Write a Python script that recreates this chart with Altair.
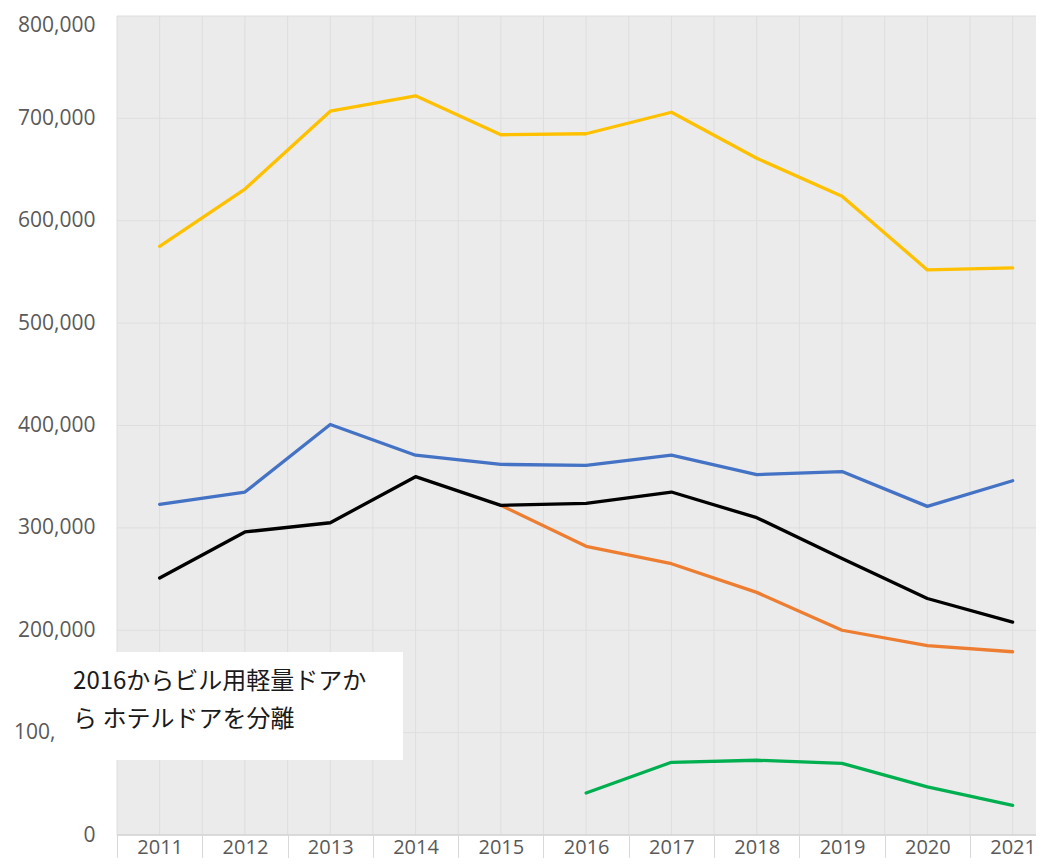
import altair as alt
import pandas as pd

# ---- data ----
years = list(range(2011, 2022))
yellow = [575000, 631000, 707000, 722000, 684000, 685000, 706000, 661000, 624000, 552000, 554000]
blue = [323000, 335000, 401000, 371000, 362000, 361000, 371000, 352000, 355000, 321000, 346000]
orange = [None, None, None, None, 322000, 282000, 265000, 237000, 200000, 185000, 179000]
black = [251000, 296000, 305000, 350000, 322000, 324000, 335000, 310000, 270000, 231000, 208000]
green = [None, None, None, None, None, 41000, 71000, 73000, 70000, 47000, 29000]
y_ticks = list(range(0, 800001, 100000))
band_edges = [2010.5 + i for i in range(11)]
x_domain = [2010.5, 2021.274]
note = "2016からビル用軽量ドアか\nら ホテルドアを分離"

series = [
    ("yellow", yellow, "#FFC000"),
    ("blue", blue, "#4472C4"),
    ("orange", orange, "#ED7D31"),
    ("black", black, "#000000"),
    ("green", green, "#00B050"),
]

W, H = 919, 819
FONT = "Open Sans"

x_scale = alt.Scale(domain=x_domain, nice=False, zero=False)
y_scale = alt.Scale(domain=[0, 800000], nice=False)

x_axis = alt.Axis(
    values=band_edges + years,
    labelExpr="datum.value % 1 === 0 ? '' + datum.value : ''",
    title=None, grid=False, domain=False,
    tickSize=23, tickWidth=1,
    tickColor={"condition": {"test": "datum.value % 1 !== 0", "value": "#d9d9d9"}, "value": "transparent"},
    labelPadding=-11, labelFont=FONT, labelFontSize=20, labelColor="#595959",
    labelBaseline="middle", labelFlush=False, labelOverlap=False,
)
# the 100,000 label is partly hidden by the note box in the reference: only "100," shows
y_axis = alt.Axis(
    values=y_ticks, title=None, grid=False, domain=False, ticks=False,
    labelExpr="datum.value === 100000 ? '100,' : format(datum.value, ',d')",
    labelPadding={"condition": {"test": "datum.value === 100000", "value": 62}, "value": 22},
    labelOffset={"condition": {"test": "datum.value === 800000", "value": 9}, "value": 0},
    labelFont=FONT, labelFontSize=21, labelColor="#595959",
)


def X(f):
    return alt.X(f, type="quantitative", scale=x_scale, axis=x_axis)


def Y(f):
    return alt.Y(f, type="quantitative", scale=y_scale, axis=y_axis)


bg_df = pd.DataFrame({"x0": [x_domain[0]], "x1": [x_domain[1]], "y0": [y_ticks[0]], "y1": [y_ticks[-1]]})
bg = alt.Chart(bg_df).mark_rect(fill="#ebebeb", stroke=None).encode(
    x=X("x0"), x2=alt.X2("x1"), y=Y("y0"), y2=alt.Y2("y1")
)

vgrid = alt.Chart(pd.DataFrame({"g": band_edges + years})).mark_rule(color="#dedede", strokeWidth=1).encode(x=X("g"))
hgrid = alt.Chart(pd.DataFrame({"v": y_ticks})).mark_rule(color="#dedede", strokeWidth=1).encode(y=Y("v"))
base_line = alt.Chart(pd.DataFrame({"v": [y_ticks[0]]})).mark_rule(color="#d4d4d4", strokeWidth=1.5).encode(y=Y("v"))

line_layers = []
for name, vals, col in series:
    df = pd.DataFrame({"year": years, "value": vals}).dropna()
    line_layers.append(
        alt.Chart(df).mark_line(color=col, strokeWidth=3.3, strokeJoin="round", strokeCap="round").encode(
            x=X("year"), y=Y("value")
        )
    )

one = pd.DataFrame({"a": [0]})
box = alt.Chart(one).mark_rect(fill="white", stroke=None).encode(
    x=alt.datum(2009.808), x2=alt.datum(2013.853), y=alt.datum(73260), y2=alt.datum(178755)
)
text = alt.Chart(one).mark_text(
    text=note, lineBreak="\n", lineHeight=38, align="left", baseline="middle",
    font="Noto Sans CJK JP", fontSize=24, color="#1a1a1a",
).encode(x=alt.datum(2009.985), y=alt.datum(149450))

chart = alt.layer(bg, vgrid, hgrid, base_line, *line_layers, box, text).properties(
    width=W, height=H,
    autosize=alt.AutoSizeParams(type="none"),
    padding={"left": 109, "top": 8, "right": 0, "bottom": 23},
    background="white",
).configure_view(stroke=None)

chart.save("out.html", embed_options={"renderer": "svg", "actions": False})
